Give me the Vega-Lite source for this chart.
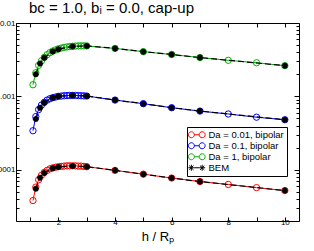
{
  "$schema": "https://vega.github.io/schema/vega-lite/v6.json",
  "width": 283,
  "height": 198,
  "autosize": "none",
  "padding": {"left": 16, "top": 23, "right": 15, "bottom": 30},
  "config": {
    "font": "Liberation Sans",
    "view": {"stroke": "black", "strokeWidth": 1},
    "axis": {"grid": false, "domain": false, "tickColor": "black", "labelColor": "black", "tickWidth": 1}
  },
  "title": {"text": "bc = 1.0, bᵢ = 0.0, cap-up", "anchor": "start", "frame": "group", "fontSize": 15, "fontWeight": "normal", "dx": 13, "offset": 3, "color": "black"},
  "datasets": {
    "bip": [
      {"h": 1.1, "v": 3.8e-5, "s": "Da = 0.01, bipolar"}, {"h": 1.2, "v": 5.8e-5, "s": "Da = 0.01, bipolar"}, {"h": 1.3, "v": 7.3e-5, "s": "Da = 0.01, bipolar"}, {"h": 1.4, "v": 8.4e-5, "s": "Da = 0.01, bipolar"}, {"h": 1.5, "v": 9.2e-5, "s": "Da = 0.01, bipolar"}, {"h": 1.6, "v": 9.8e-5, "s": "Da = 0.01, bipolar"}, {"h": 1.7, "v": 1.03e-4, "s": "Da = 0.01, bipolar"}, {"h": 1.8, "v": 1.06e-4, "s": "Da = 0.01, bipolar"}, {"h": 1.9, "v": 1.08e-4, "s": "Da = 0.01, bipolar"}, {"h": 2.0, "v": 1.10e-4, "s": "Da = 0.01, bipolar"}, {"h": 2.1, "v": 1.11e-4, "s": "Da = 0.01, bipolar"}, {"h": 2.2, "v": 1.12e-4, "s": "Da = 0.01, bipolar"}, {"h": 2.3, "v": 1.13e-4, "s": "Da = 0.01, bipolar"}, {"h": 2.4, "v": 1.13e-4, "s": "Da = 0.01, bipolar"}, {"h": 2.5, "v": 1.13e-4, "s": "Da = 0.01, bipolar"}, {"h": 2.6, "v": 1.13e-4, "s": "Da = 0.01, bipolar"}, {"h": 2.7, "v": 1.12e-4, "s": "Da = 0.01, bipolar"}, {"h": 2.8, "v": 1.12e-4, "s": "Da = 0.01, bipolar"}, {"h": 2.9, "v": 1.11e-4, "s": "Da = 0.01, bipolar"}, {"h": 3.0, "v": 1.10e-4, "s": "Da = 0.01, bipolar"}, {"h": 4, "v": 9.8e-5, "s": "Da = 0.01, bipolar"}, {"h": 5, "v": 8.7e-5, "s": "Da = 0.01, bipolar"}, {"h": 6, "v": 7.7e-5, "s": "Da = 0.01, bipolar"}, {"h": 7, "v": 6.9e-5, "s": "Da = 0.01, bipolar"}, {"h": 8, "v": 6.3e-5, "s": "Da = 0.01, bipolar"}, {"h": 9, "v": 5.7e-5, "s": "Da = 0.01, bipolar"}, {"h": 10, "v": 5.2e-5, "s": "Da = 0.01, bipolar"},
      {"h": 1.1, "v": 3.4e-4, "s": "Da = 0.1, bipolar"}, {"h": 1.2, "v": 5.3e-4, "s": "Da = 0.1, bipolar"}, {"h": 1.3, "v": 6.6e-4, "s": "Da = 0.1, bipolar"}, {"h": 1.4, "v": 7.6e-4, "s": "Da = 0.1, bipolar"}, {"h": 1.5, "v": 8.3e-4, "s": "Da = 0.1, bipolar"}, {"h": 1.6, "v": 8.9e-4, "s": "Da = 0.1, bipolar"}, {"h": 1.7, "v": 9.3e-4, "s": "Da = 0.1, bipolar"}, {"h": 1.8, "v": 9.6e-4, "s": "Da = 0.1, bipolar"}, {"h": 1.9, "v": 9.8e-4, "s": "Da = 0.1, bipolar"}, {"h": 2.0, "v": 1.0e-3, "s": "Da = 0.1, bipolar"}, {"h": 2.1, "v": 1.01e-3, "s": "Da = 0.1, bipolar"}, {"h": 2.2, "v": 1.02e-3, "s": "Da = 0.1, bipolar"}, {"h": 2.3, "v": 1.025e-3, "s": "Da = 0.1, bipolar"}, {"h": 2.4, "v": 1.03e-3, "s": "Da = 0.1, bipolar"}, {"h": 2.5, "v": 1.03e-3, "s": "Da = 0.1, bipolar"}, {"h": 2.6, "v": 1.03e-3, "s": "Da = 0.1, bipolar"}, {"h": 2.7, "v": 1.025e-3, "s": "Da = 0.1, bipolar"}, {"h": 2.8, "v": 1.02e-3, "s": "Da = 0.1, bipolar"}, {"h": 2.9, "v": 1.015e-3, "s": "Da = 0.1, bipolar"}, {"h": 3.0, "v": 1.01e-3, "s": "Da = 0.1, bipolar"}, {"h": 4, "v": 8.9e-4, "s": "Da = 0.1, bipolar"}, {"h": 5, "v": 7.95e-4, "s": "Da = 0.1, bipolar"}, {"h": 6, "v": 7.0e-4, "s": "Da = 0.1, bipolar"}, {"h": 7, "v": 6.3e-4, "s": "Da = 0.1, bipolar"}, {"h": 8, "v": 5.75e-4, "s": "Da = 0.1, bipolar"}, {"h": 9, "v": 5.2e-4, "s": "Da = 0.1, bipolar"}, {"h": 10, "v": 4.8e-4, "s": "Da = 0.1, bipolar"},
      {"h": 1.1, "v": 1.44e-3, "s": "Da = 1, bipolar"}, {"h": 1.2, "v": 2.1e-3, "s": "Da = 1, bipolar"}, {"h": 1.3, "v": 2.65e-3, "s": "Da = 1, bipolar"}, {"h": 1.4, "v": 3.05e-3, "s": "Da = 1, bipolar"}, {"h": 1.5, "v": 3.4e-3, "s": "Da = 1, bipolar"}, {"h": 1.6, "v": 3.7e-3, "s": "Da = 1, bipolar"}, {"h": 1.7, "v": 3.95e-3, "s": "Da = 1, bipolar"}, {"h": 1.8, "v": 4.15e-3, "s": "Da = 1, bipolar"}, {"h": 1.9, "v": 4.3e-3, "s": "Da = 1, bipolar"}, {"h": 2.0, "v": 4.45e-3, "s": "Da = 1, bipolar"}, {"h": 2.1, "v": 4.55e-3, "s": "Da = 1, bipolar"}, {"h": 2.2, "v": 4.65e-3, "s": "Da = 1, bipolar"}, {"h": 2.3, "v": 4.72e-3, "s": "Da = 1, bipolar"}, {"h": 2.4, "v": 4.78e-3, "s": "Da = 1, bipolar"}, {"h": 2.5, "v": 4.82e-3, "s": "Da = 1, bipolar"}, {"h": 2.6, "v": 4.85e-3, "s": "Da = 1, bipolar"}, {"h": 2.7, "v": 4.87e-3, "s": "Da = 1, bipolar"}, {"h": 2.8, "v": 4.88e-3, "s": "Da = 1, bipolar"}, {"h": 2.9, "v": 4.88e-3, "s": "Da = 1, bipolar"}, {"h": 3.0, "v": 4.87e-3, "s": "Da = 1, bipolar"}, {"h": 4, "v": 4.5e-3, "s": "Da = 1, bipolar"}, {"h": 5, "v": 4.07e-3, "s": "Da = 1, bipolar"}, {"h": 6, "v": 3.72e-3, "s": "Da = 1, bipolar"}, {"h": 7, "v": 3.38e-3, "s": "Da = 1, bipolar"}, {"h": 8, "v": 3.1e-3, "s": "Da = 1, bipolar"}, {"h": 9, "v": 2.87e-3, "s": "Da = 1, bipolar"}, {"h": 10, "v": 2.62e-3, "s": "Da = 1, bipolar"}
    ],
    "bem": [
      {"h": 1.2, "v": 5.5e-5, "d": "0.01"}, {"h": 1.35, "v": 7.8e-5, "d": "0.01"}, {"h": 1.5, "v": 9.0e-5, "d": "0.01"}, {"h": 1.8, "v": 1.05e-4, "d": "0.01"}, {"h": 2.0, "v": 1.09e-4, "d": "0.01"}, {"h": 2.5, "v": 1.12e-4, "d": "0.01"}, {"h": 3.0, "v": 1.1e-4, "d": "0.01"}, {"h": 4, "v": 9.8e-5, "d": "0.01"}, {"h": 5, "v": 8.7e-5, "d": "0.01"}, {"h": 6, "v": 7.7e-5, "d": "0.01"}, {"h": 7, "v": 6.9e-5, "d": "0.01"}, {"h": 10, "v": 5.2e-5, "d": "0.01"},
      {"h": 1.2, "v": 4.9e-4, "d": "0.1"}, {"h": 1.35, "v": 7.0e-4, "d": "0.1"}, {"h": 1.5, "v": 8.2e-4, "d": "0.1"}, {"h": 1.8, "v": 9.6e-4, "d": "0.1"}, {"h": 2.0, "v": 1.0e-3, "d": "0.1"}, {"h": 2.5, "v": 1.03e-3, "d": "0.1"}, {"h": 3.0, "v": 1.01e-3, "d": "0.1"}, {"h": 4, "v": 8.9e-4, "d": "0.1"}, {"h": 5, "v": 7.95e-4, "d": "0.1"}, {"h": 6, "v": 7.0e-4, "d": "0.1"}, {"h": 7, "v": 6.3e-4, "d": "0.1"}, {"h": 10, "v": 4.8e-4, "d": "0.1"},
      {"h": 1.2, "v": 2.0e-3, "d": "1"}, {"h": 1.35, "v": 2.8e-3, "d": "1"}, {"h": 1.5, "v": 3.35e-3, "d": "1"}, {"h": 1.8, "v": 4.1e-3, "d": "1"}, {"h": 2.0, "v": 4.4e-3, "d": "1"}, {"h": 2.5, "v": 4.8e-3, "d": "1"}, {"h": 3.0, "v": 4.87e-3, "d": "1"}, {"h": 4, "v": 4.5e-3, "d": "1"}, {"h": 5, "v": 4.07e-3, "d": "1"}, {"h": 6, "v": 3.72e-3, "d": "1"}, {"h": 7, "v": 3.38e-3, "d": "1"}, {"h": 10, "v": 2.62e-3, "d": "1"}
    ],
    "leg": [
      {"s": "Da = 0.01, bipolar"}, {"s": "Da = 0.1, bipolar"}, {"s": "Da = 1, bipolar"}, {"s": "BEM"}
    ]
  },
  "resolve": {"axis": {"x": "independent", "y": "independent"}},
  "layer": [
    {
      "data": {"name": "bip"},
      "mark": {"type": "line", "strokeWidth": 1, "clip": true},
      "encoding": {
        "x": {"field": "h", "type": "quantitative", "scale": {"domain": [0.5, 10.5], "nice": false, "zero": false},
          "axis": {"orient": "bottom", "values": [1, 2, 3, 4, 5, 6, 7, 8, 9, 10], "labelExpr": "datum.value % 2 == 0 ? datum.label : ''", "tickSize": -4, "labelPadding": 1, "labelFontSize": 8, "title": "h / Rₚ", "titleFontSize": 13, "titleFontWeight": "normal", "titlePadding": 4, "titleColor": "black"}},
        "y": {"field": "v", "type": "quantitative", "scale": {"type": "log", "domain": [2e-5, 0.01], "nice": false},
          "axis": {"orient": "left", "title": null, "format": "~g", "labelFontSize": 8, "labelPadding": 6,
            "values": [2e-5, 3e-5, 4e-5, 5e-5, 6e-5, 7e-5, 8e-5, 9e-5, 1e-4, 2e-4, 3e-4, 4e-4, 5e-4, 6e-4, 7e-4, 8e-4, 9e-4, 1e-3, 2e-3, 3e-3, 4e-3, 5e-3, 6e-3, 7e-3, 8e-3, 9e-3, 1e-2],
            "labelExpr": "abs(log(datum.value)/LN10 - round(log(datum.value)/LN10)) < 0.001 ? datum.label : ''",
            "tickSize": {"condition": {"test": "abs(log(datum.value)/LN10 - round(log(datum.value)/LN10)) < 0.001", "value": -5}, "value": -3}}},
        "color": {"field": "s", "type": "nominal", "scale": {"domain": ["Da = 0.01, bipolar", "Da = 0.1, bipolar", "Da = 1, bipolar", "BEM"], "range": ["#ff0000", "#0000ff", "#00b000", "#000000"]}}
      }
    },
    {
      "data": {"name": "bip"},
      "mark": {"type": "point", "filled": false, "size": 40, "strokeWidth": 1, "opacity": 1, "clip": true},
      "encoding": {
        "x": {"field": "h", "type": "quantitative", "axis": null},
        "y": {"field": "v", "type": "quantitative", "axis": null},
        "color": {"field": "s", "type": "nominal"}
      }
    },
    {
      "data": {"name": "bem"},
      "mark": {"type": "line", "strokeWidth": 1.2, "strokeDash": [6, 3], "color": "black", "clip": true},
      "encoding": {
        "x": {"field": "h", "type": "quantitative", "axis": null},
        "y": {"field": "v", "type": "quantitative", "axis": null},
        "detail": {"field": "d", "type": "nominal"}
      }
    },
    {
      "data": {"name": "bem"},
      "mark": {"type": "point", "filled": false, "size": 36, "strokeWidth": 1.8, "color": "black", "opacity": 1, "shape": "M-1,0L1,0M0,-1L0,1M-0.7,-0.7L0.7,0.7M-0.7,0.7L0.7,-0.7", "clip": true},
      "encoding": {
        "x": {"field": "h", "type": "quantitative", "axis": null},
        "y": {"field": "v", "type": "quantitative", "axis": null}
      }
    },
    {
      "data": {"name": "leg"},
      "mark": {"type": "point", "filled": false, "opacity": 0},
      "encoding": {
        "x": {"datum": 5, "type": "quantitative", "axis": {"orient": "top", "values": [1, 2, 3, 4, 5, 6, 7, 8, 9, 10], "labels": false, "tickSize": -4, "title": null}},
        "y": {"datum": 0.001, "type": "quantitative", "axis": {"orient": "right", "labels": false, "title": null,
            "values": [2e-5, 3e-5, 4e-5, 5e-5, 6e-5, 7e-5, 8e-5, 9e-5, 1e-4, 2e-4, 3e-4, 4e-4, 5e-4, 6e-4, 7e-4, 8e-4, 9e-4, 1e-3, 2e-3, 3e-3, 4e-3, 5e-3, 6e-3, 7e-3, 8e-3, 9e-3, 1e-2],
            "tickSize": {"condition": {"test": "abs(log(datum.value)/LN10 - round(log(datum.value)/LN10)) < 0.001", "value": -5}, "value": -3}}},
        "color": {"field": "s", "type": "nominal",
          "legend": {"orient": "none", "legendX": 171, "legendY": 104, "title": null, "strokeColor": "black", "fillColor": "white", "padding": 3, "labelFontSize": 9.5, "labelColor": "black", "symbolSize": 64, "symbolStrokeWidth": 1, "symbolOpacity": 1, "symbolFillColor": "transparent", "symbolOffset": 2, "labelOffset": 7, "rowPadding": 0, "cornerRadius": 0}},
        "shape": {"field": "s", "type": "nominal", "scale": {"domain": ["Da = 0.01, bipolar", "Da = 0.1, bipolar", "Da = 1, bipolar", "BEM"],
          "range": [
            "M-0.6,0A0.75,0.75 0 1 1 -2.1,0A0.75,0.75 0 1 1 -0.6,0M2.1,0A0.75,0.75 0 1 1 0.6,0A0.75,0.75 0 1 1 2.1,0M-0.6,0L0.6,0",
            "M-0.6,0A0.75,0.75 0 1 1 -2.1,0A0.75,0.75 0 1 1 -0.6,0M2.1,0A0.75,0.75 0 1 1 0.6,0A0.75,0.75 0 1 1 2.1,0M-0.6,0L0.6,0",
            "M-0.6,0A0.75,0.75 0 1 1 -2.1,0A0.75,0.75 0 1 1 -0.6,0M2.1,0A0.75,0.75 0 1 1 0.6,0A0.75,0.75 0 1 1 2.1,0M-0.6,0L0.6,0",
            "M-2.1,0L-0.6,0M-1.35,-0.75L-1.35,0.75M-1.88,-0.53L-0.82,0.53M-1.88,0.53L-0.82,-0.53M0.6,0L2.1,0M1.35,-0.75L1.35,0.75M0.82,-0.53L1.88,0.53M0.82,0.53L1.88,-0.53M-0.6,0L0.6,0"
          ]},
          "legend": {"orient": "none", "legendX": 171, "legendY": 104, "title": null, "strokeColor": "black", "fillColor": "white", "padding": 3, "labelFontSize": 9.5, "labelColor": "black", "symbolSize": 64, "symbolStrokeWidth": 1, "symbolOpacity": 1, "symbolFillColor": "transparent", "symbolOffset": 2, "labelOffset": 7, "rowPadding": 0, "cornerRadius": 0}}
      }
    }
  ]
}
